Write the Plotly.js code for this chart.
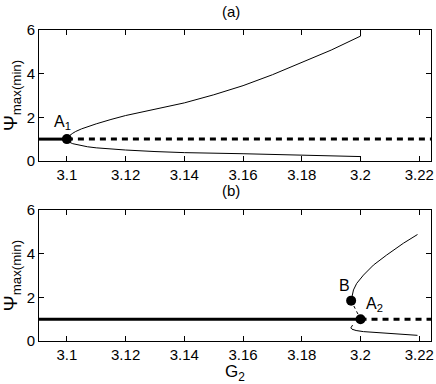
<!DOCTYPE html>
<html>
<head>
<meta charset="utf-8">
<script src="https://cdn.plot.ly/plotly-3.0.1.min.js"></script>
<style>
  body { margin: 0; }
  #chart { width: 436px; height: 384px; }
</style>
</head>
<body>
<div id="chart"></div>
<script>
// panel (a): branches born at A1
var aUpperG = [3.1, 3.1005, 3.101, 3.102, 3.103, 3.105, 3.107, 3.11, 3.115, 3.12, 3.13, 3.14, 3.15, 3.16, 3.17, 3.18, 3.19, 3.2, 3.2];
var aUpperV = [1.0, 1.1, 1.17, 1.27, 1.35, 1.47, 1.57, 1.7, 1.9, 2.08, 2.37, 2.66, 3.03, 3.45, 3.95, 4.5, 5.08, 5.72, 6.0];
var aLowerG = [3.1, 3.1005, 3.101, 3.102, 3.104, 3.107, 3.11, 3.115, 3.12, 3.13, 3.14, 3.16, 3.18, 3.2, 3.2];
var aLowerV = [1.0, 0.9, 0.85, 0.79, 0.72, 0.65, 0.6, 0.54, 0.5, 0.43, 0.38, 0.33, 0.27, 0.2, 0.0];
var aStableG = [3.0905, 3.1];
var aUnstableG = [3.1, 3.224];
var aPoint = [3.1, 1];

// panel (b): branches near A2 and B
var bUpperG = [3.1968, 3.1971, 3.1976, 3.1987, 3.201, 3.2044, 3.2089, 3.2146, 3.2194];
var bUpperV = [1.85, 2.12, 2.34, 2.64, 3.02, 3.48, 3.94, 4.48, 4.88];
var bLowerG = [3.1973, 3.1968, 3.1967, 3.1971, 3.1985, 3.201, 3.2101, 3.2194];
var bLowerV = [0.73, 0.66, 0.6, 0.54, 0.48, 0.43, 0.35, 0.26];
var bLinkG = [3.1968, 3.2];
var bLinkV = [1.85, 1.0];
var bStableG = [3.0905, 3.2];
var bUnstableG = [3.2, 3.224];
var bPointA = [3.2, 1];
var bPointB = [3.1968, 1.85];

var thin = {color: 'black', width: 1};
function line(x, y, ln, ax) {
  return {x: x, y: y, mode: 'lines', line: ln, xaxis: ax[0], yaxis: ax[1], hoverinfo: 'skip'};
}
function dot(p, ax) {
  return {x: [p[0]], y: [p[1]], mode: 'markers', marker: {color: 'black', size: 10},
    xaxis: ax[0], yaxis: ax[1]};
}
var top_ = ['x', 'y'], bot = ['x2', 'y2'];

var data = [
  line(aStableG, [1, 1], {color: 'black', width: 3}, top_),
  line(aUnstableG, [1, 1], {color: 'black', width: 3, dash: '6px,5px'}, top_),
  line(aUpperG, aUpperV, thin, top_),
  line(aLowerG, aLowerV, thin, top_),
  dot(aPoint, top_),
  line(bStableG, [1, 1], {color: 'black', width: 3}, bot),
  line(bUnstableG, [1, 1], {color: 'black', width: 3, dash: '6px,5px'}, bot),
  line(bUpperG, bUpperV, thin, bot),
  line(bLowerG, bLowerV, thin, bot),
  line(bLinkG, bLinkV, {color: 'black', width: 1, dash: '3px,3px'}, bot),
  dot(bPointA, bot),
  dot(bPointB, bot)
];

var fam = 'Liberation Sans, Arial, sans-serif';
var fnt = {family: fam, size: 15, color: 'black'};
function xax(anchor) {
  return {range: [3.0905, 3.224], tickvals: [3.1, 3.12, 3.14, 3.16, 3.18, 3.2, 3.22],
    ticktext: ['3.1', '3.12', '3.14', '3.16', '3.18', '3.2', '3.22'],
    ticks: 'inside', ticklen: 5, tickcolor: 'black', showline: true, linecolor: 'black',
    linewidth: 1, mirror: 'ticks', showgrid: false, zeroline: false, anchor: anchor,
    tickfont: fnt};
}
function yax(dom, anchor) {
  return {domain: dom, range: [0, 6], tickvals: [0, 2, 4, 6], ticks: 'inside', ticklen: 5,
    tickcolor: 'black', showline: true, linecolor: 'black', linewidth: 1, mirror: 'ticks',
    showgrid: false, zeroline: false, anchor: anchor, tickfont: fnt,
    title: {text: '<span style="font-size:19px">Ψ</span><sub>max(min)</sub>',
      font: {family: fam, size: 19, color: 'black'}, standoff: 4}};
}

var xa2 = xax('y2');
xa2.title = {text: 'G<sub>2</sub>', font: {family: fam, size: 17, color: 'black'}, standoff: 2};

var labFont = {family: fam, size: 16, color: 'black'};
var layout = {
  width: 436, height: 384,
  margin: {l: 39, r: 5, t: 30, b: 43},
  showlegend: false,
  paper_bgcolor: 'white', plot_bgcolor: 'white',
  font: fnt,
  xaxis: xax('y'),
  yaxis: yax([0.579, 1], 'x'),
  xaxis2: xa2,
  yaxis2: yax([0, 0.421], 'x2'),
  annotations: [
    {text: '(a)', xref: 'paper', yref: 'paper', x: 0.49, y: 1.025, yanchor: 'bottom', showarrow: false, font: fnt},
    {text: '(b)', xref: 'paper', yref: 'paper', x: 0.49, y: 0.45, yanchor: 'bottom', showarrow: false, font: fnt},
    {text: 'A<sub>1</sub>', xref: 'x', yref: 'y', x: 3.0985, y: 1.75, showarrow: false, font: labFont},
    {text: 'B', xref: 'x2', yref: 'y2', x: 3.1945, y: 2.55, showarrow: false, font: labFont},
    {text: 'A<sub>2</sub>', xref: 'x2', yref: 'y2', x: 3.2048, y: 1.65, showarrow: false, font: labFont}
  ]
};

Plotly.newPlot('chart', data, layout, {staticPlot: true});
</script>
</body>
</html>
